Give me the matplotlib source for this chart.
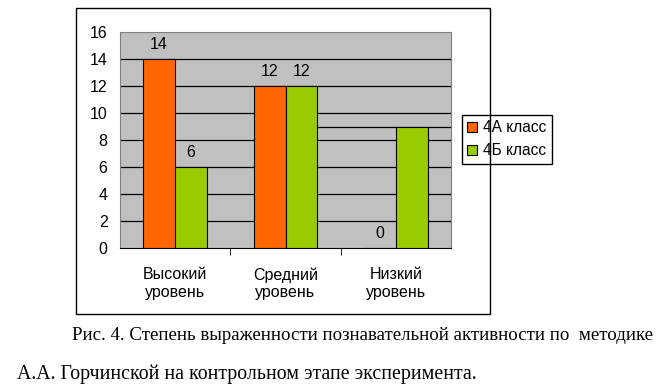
import numpy as np
from matplotlib import pyplot as plt
from matplotlib.patches import Rectangle

# data
categories = ['Высокий\nуровень', 'Средний\nуровень', 'Низкий\nуровень']
class_4a = [14, 12, 0]
class_4b = [6, 12, 9]
labels_4a = ['14', '12', '0']
labels_4b = ['6', '12', '']
series_names = ['4А класс', '4Б класс']
yticks = np.arange(0, 17, 2)

plt.rcParams['font.family'] = ['Liberation Sans', 'DejaVu Sans']

W, H = 661, 392
fig = plt.figure(figsize=(W / 100, H / 100), dpi=100)
fig.patch.set_facecolor('white')

# outer chart frame
fig.patches.append(Rectangle((76 / W, 1 - 314 / H), (490 - 76) / W, (314 - 8) / H,
                             transform=fig.transFigure, fill=False,
                             edgecolor='black', linewidth=1.0))

ax = fig.add_axes([120 / W, 1 - 248 / H, 331 / W, 216 / H])
ax.set_facecolor('#C0C0C0')

x = np.arange(len(categories))
w = 0.29
b1 = ax.bar(x - w / 2, class_4a, w, color='#FF6600', edgecolor='black', linewidth=0.8,
            label=series_names[0], zorder=3)
b2 = ax.bar(x + w / 2, class_4b, w, color='#99CC00', edgecolor='black', linewidth=0.8,
            label=series_names[1], zorder=3)

# value labels
for rect, t in zip(b1, labels_4a):
    ax.text(rect.get_x() + rect.get_width() / 2, rect.get_height() + 0.55, t,
            ha='center', va='bottom', fontsize=11.5, zorder=4)
for rect, t in zip(b2, labels_4b):
    ax.text(rect.get_x() + rect.get_width() / 2, rect.get_height() + 0.55, t,
            ha='center', va='bottom', fontsize=11.5, zorder=4)

# gridlines
ax.set_xlim(-0.5, len(categories) - 0.5)
ax.set_ylim(0, 16)
for yv in yticks[1:-1]:
    ax.axhline(yv, color='black', linewidth=0.9, zorder=1)
# odd extra line in the original
ax.hlines(class_4b[2], x[1] + w, len(categories) - 0.5, color='black', linewidth=0.9, zorder=1)

ax.set_yticks(yticks)
ax.tick_params(axis='y', length=0, pad=9, labelsize=11.5)
ax.set_xticks(x)
ax.set_xticklabels(categories, fontsize=11.5, linespacing=1.2)
ax.tick_params(axis='x', which='major', length=0, pad=14)
ax.set_xticks(x[:-1] + 0.5, minor=True)
ax.tick_params(axis='x', which='minor', length=5, direction='out', color='black')

for s in ['top', 'right', 'left']:
    ax.spines[s].set_color('#808080')
ax.spines['bottom'].set_color('black')

ax.legend(loc='upper left', bbox_to_anchor=(462 / W, 1 - 115 / H), bbox_transform=fig.transFigure,
          fontsize=11.2, frameon=True, fancybox=False, edgecolor='black', framealpha=1,
          handlelength=0.6, handleheight=0.6, handletextpad=0.4, borderpad=0.35,
          labelspacing=0.5, borderaxespad=0)

# caption
fig.text(72 / W, 1 - 340 / H,
         'Рис. 4. Степень выраженности познавательной активности по  методике',
         fontsize=13.6, family='Liberation Serif', ha='left', va='baseline')
fig.text(17 / W, 1 - 379 / H,
         'А.А. Горчинской на контрольном этапе эксперимента.',
         fontsize=14.3, family='Liberation Serif', ha='left', va='baseline')

plt.savefig('out.png', dpi=100)
